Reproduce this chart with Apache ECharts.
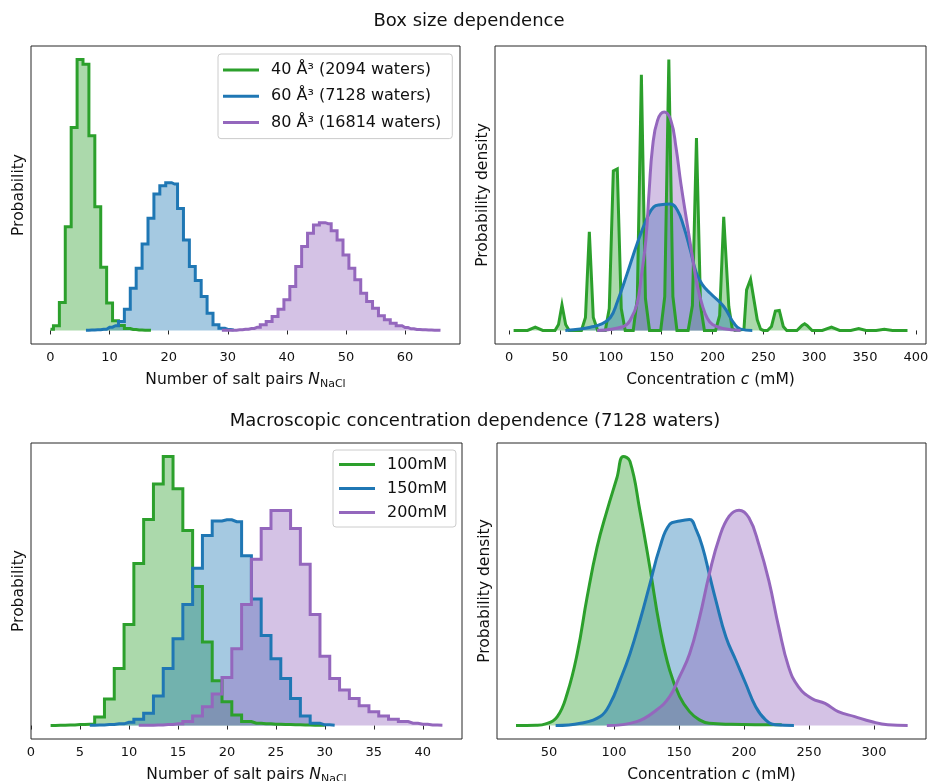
<!DOCTYPE html>
<html>
<head>
<meta charset="utf-8">
<script src="https://cdn.jsdelivr.net/npm/echarts@6/dist/echarts.min.js"></script>
<style>html,body{margin:0;padding:0;background:#fff}#c{width:928px;height:781px}</style>
</head>
<body>
<div id="c"></div>
<script>
// ---------- DATA (relative probability, arbitrary units) ----------
const boxNames = ['40 Å³ (2094 waters)', '60 Å³ (7128 waters)', '80 Å³ (16814 waters)'];
const concNames = ['100mM', '150mM', '200mM'];

// Top-left histograms: number of salt pairs
const nBins40 = [0,1,2,3,4,5,6,7,8,9,10,11,12,13,14,15,16,17];
const hist40 = [1.3,4.7,28,104,203.4,271.4,266.7,195,124,63.4,27.4,9.7,5,2,1,0.5,0.3,0.2];
const nBins60 = [6,7,8,9,10,11,12,13,14,15,16,17,18,19,20,21,22,23,24,25,26,27,28,29,30,31];
const hist60 = [0.3,0.5,0.7,1.3,3.3,4.7,9,21.3,42.3,62.3,86.7,112.3,136.7,145,148,146.7,122.3,90.7,64,50,34,17.3,5.7,2.3,1,0.5];
const nBins80 = [29,30,31,32,33,34,35,36,37,38,39,40,41,42,43,44,45,46,47,48,49,50,51,52,53,54,55,56,57,58,59,60,61,62,63,64,65,66];
const hist80 = [0.1,0.2,0.3,0.7,1.3,2,3.3,5.7,9,14,21.3,30.7,44,64,84,97.3,105.7,108,107,100,90.7,75.7,62.3,50.7,37.3,29,22.3,14.7,10.7,7.3,4.7,3,1.7,1,0.7,0.5,0.3,0.2];

// Top-right densities: [concentration mM, density]
const dens40 = [[4.3,0],[18,0],[25.6,3.3],[33,0],[45,0],[48.5,6],[51.9,25.7],[55.5,6],[59,0],
  [71,0],[75,13],[78.8,99],[82.7,13],[87,0],[94.5,0],[98.4,22],[102.4,160],[106.3,162],[110.2,22],[114.1,0],
  [122,0],[126,32],[130,256.3],[134,32],[138,0],[149,0],[153,34],[157,271.7],[161,34],[165,0],
  [176,0],[180.2,25],[184.2,193],[188.2,25],[192,0],[203,0],[207,15],[211,114],[216,24],[219.4,2],[222,0],
  [230.9,1],[233.5,40.7],[237.4,51.3],[244,10.7],[247.3,1.3],[250,0],[254,0],[258,4],[261.8,19.5],[265.7,20],[269.6,4],[273,0],
  [283,0],[288,5],[290.6,6.7],[293,5],[298,0],[308,0],[317,3.3],[325,0],[336,0],[343.8,2],[351,0],[361,0],[369,1.3],[377,0],[391.8,0]];
const dens60 = [[55.2,0],[70,1.5],[79.8,3.3],[89.7,6],[99.5,13],[106.1,28],[116,57],[125.8,87],[135.7,113],[142.2,124],[148.8,126],
  [158.6,126.7],[165.2,121],[171.7,104],[178.3,80],[184,58],[190,46],[198,37],[211,24],[221,7.3],[227.6,1.3],[239.1,0]];
const dens80 = [[86.4,0],[112.6,4],[119.2,10.7],[125.8,27],[130,55],[134.4,90.7],[137.7,140.7],[141,184],[145.9,210.7],[152.5,219],
  [159,210.7],[164,184],[168.9,147],[175.5,104],[180,75],[185,45],[190,25],[195,12],[200,6],[210,2],[227.6,0]];

// Bottom-left histograms
const nBins100 = [2,3,4,5,6,7,8,9,10,11,12,13,14,15,16,17,18,19,20,21,22,23,24,25,26,27,28,29,30];
const hist100 = [0.1,0.2,0.5,1,1.3,8.7,26.7,57.3,101.7,163,207.3,243,270.7,238.3,196.3,140,84,45,24,10.7,4,2.3,1.7,1.3,1,0.7,0.5,0.3,0.2];
const nBins150 = [6,7,8,9,10,11,12,13,14,15,16,17,18,19,20,21,22,23,24,25,26,27,28,29,30,31];
const hist150 = [0.3,0.5,1,1.7,3.3,6.3,12.3,29.7,57.3,87.3,121.7,158.3,191.3,205.7,207,205,170.7,127.3,90.7,67.3,47.3,27.3,9.7,2.3,0.7,0.3];
const nBins200 = [11,12,13,14,15,16,17,18,19,20,21,22,23,24,25,26,27,28,29,30,31,32,33,34,35,36,37,38,39,40,41,42];
const hist200 = [0.2,0.3,0.5,1,1.7,4,9.7,19,31.7,48.3,77.3,121.7,167.3,198.3,216.3,216.3,198.3,162.3,111.7,69.7,47.3,35.7,27.3,20,14,9.7,6.3,4,2.3,1.3,0.5,0.3];

// Bottom-right densities
const dens100 = [[24.6,0],[40,0.3],[47.5,1.7],[56.4,9],[64,32.3],[71.7,72.3],[79.3,129],[86.9,179],[94.5,215.7],[102.2,249],[107.2,270.7],
  [112.3,265.7],[120,215.7],[127.6,159],[135.2,99],[142.8,55.7],[150.5,29],[158.1,14],[165.7,5.7],[173.3,2.3],[190,1.3],[229,0.7]];
const dens150 = [[55.1,0],[74.2,2.3],[89.4,9],[97.1,22.3],[104.7,45.7],[112.3,72.3],[120,105.7],[127.6,142.3],[135.2,179],[142.8,202.3],
  [150.5,205.7],[158.1,207.3],[163.2,197],[168.2,179],[173.3,152.3],[178.4,125.7],[186.1,89],[193.7,65.7],[201.3,42.3],[209,19],[216.6,5.7],[224.2,0.7],[238.4,0]];
const dens200 = [[94.5,0],[117.4,4],[132.7,15.7],[142.8,29],[150,48],[158.1,72],[165.7,108],[173.3,152.3],[181,189],[188.6,210.7],[196.2,216.7],
  [203.8,209],[211.4,182.3],[219.1,145.7],[226.7,99],[234.3,59],[241.9,39],[252.1,27.3],[262.3,22.3],[272.5,14],[285.2,9],[297.9,4],[310.6,0.7],[325.9,0]];

// Tick labels
const ticksTL = [0,10,20,30,40,50,60];
const ticksTR = [0,50,100,150,200,250,300,350,400];
const ticksBL = [0,5,10,15,20,25,30,35,40];
const ticksBR = [50,100,150,200,250,300];

// ---------- STYLE ----------
const FONT = 'DejaVu Sans';
const C = ['#2ca02c', '#1f77b4', '#9467bd'];
const INK = '#262626';

function pairs(xs, ys){ return xs.map((x,i)=>[x, ys[i]]); }
function maxOf(list){ return Math.max(...list); }

function line(name, color, data, idx, opts){
  return Object.assign({
    type: 'line', name, data, xAxisIndex: idx, yAxisIndex: idx,
    symbol: 'none', showSymbol: false, animation: false,
    lineStyle: { color, width: 3, join: 'miter' },
    itemStyle: { color },
    areaStyle: { color, opacity: 0.4 },
    emphasis: { disabled: true }
  }, opts || {});
}

const grids = [
  { left: 31, top: 46, width: 429, height: 298 },
  { left: 495, top: 46, width: 431, height: 298 },
  { left: 31, top: 443, width: 431, height: 296 },
  { left: 497, top: 443, width: 429, height: 296 }
].map(g => Object.assign(g, { show: true, borderColor: INK, borderWidth: 1, backgroundColor: 'transparent', outerBoundsMode: 'none' }));

const nameN = 'Number of salt pairs {i|N}{s|NaCl}';
const nameC = 'Concentration {i|c} (mM)';
const nameStyle = {
  fontFamily: FONT, fontSize: 15.5, color: '#111', lineHeight: 20,
  rich: {
    i: { fontFamily: FONT, fontSize: 15.5, fontStyle: 'italic', color: '#111', lineHeight: 20 },
    s: { fontFamily: FONT, fontSize: 11, color: '#111', lineHeight: 11, verticalAlign: 'bottom' }
  }
};

function xAxis(idx, min, max, ticks, name){
  return {
    type: 'value', gridIndex: idx, min, max, name, nameLocation: 'middle', nameGap: 26,
    nameTextStyle: nameStyle,
    axisLine: { show: false },
    axisTick: { show: true, length: 4, lineStyle: { color: INK, width: 1 }, customValues: ticks },
    axisLabel: { show: true, customValues: ticks, fontFamily: FONT, fontSize: 13, color: '#111', margin: 7 },
    splitLine: { show: false }
  };
}
function yAxis(idx, M, name){
  return {
    type: 'value', gridIndex: idx, min: -0.05 * M, max: 1.05 * M,
    name, nameLocation: 'middle', nameGap: 4, nameRotate: 90,
    nameTextStyle: { fontFamily: FONT, fontSize: 15.5, color: '#111' },
    axisLine: { show: false }, axisTick: { show: false }, axisLabel: { show: false }, splitLine: { show: false }
  };
}

const dTL = [pairs(nBins40, hist40), pairs(nBins60, hist60), pairs(nBins80, hist80)];
const dTR = [dens40, dens60, dens80];
const dBL = [pairs(nBins100, hist100), pairs(nBins150, hist150), pairs(nBins200, hist200)];
const dBR = [dens100, dens150, dens200];
const M = [dTL, dTR, dBL, dBR].map(g => maxOf(g.flat().map(p => p[1])));

const series = [];
dTL.forEach((d,i) => series.push(line(boxNames[i], C[i], d, 0, { step: 'middle' })));
dTR.forEach((d,i) => series.push(line(boxNames[i], C[i], d, 1, i === 0 ? {} : { smooth: 0.45 })));
dBL.forEach((d,i) => series.push(line(concNames[i], C[i], d, 2, { step: 'middle' })));
dBR.forEach((d,i) => series.push(line(concNames[i], C[i], d, 3, { smooth: 0.45 })));

function legend(names, left, top, padding, gap){
  return {
    data: names, left, top, orient: 'vertical', padding, itemGap: gap,
    icon: 'rect', itemWidth: 36, itemHeight: 3,
    itemStyle: { borderWidth: 0 },
    backgroundColor: 'rgba(255,255,255,0.8)', borderColor: '#cccccc', borderWidth: 1, borderRadius: 3,
    textStyle: { fontFamily: FONT, fontSize: 16, color: '#111', lineHeight: 18, padding: [0,0,0,7] },
    selectedMode: false
  };
}

const option = {
  animation: false,
  backgroundColor: '#ffffff',
  title: [
    { text: 'Box size dependence', left: 464, textAlign: 'center', top: 7,
      textStyle: { fontFamily: FONT, fontSize: 18, fontWeight: 'normal', color: '#111' } },
    { text: 'Macroscopic concentration dependence (7128 waters)', left: 470, textAlign: 'center', top: 407,
      textStyle: { fontFamily: FONT, fontSize: 18, fontWeight: 'normal', color: '#111' } }
  ],
  legend: [
    legend(boxNames, 218, 54, [7,11,7,5], 8.3),
    legend(concNames, 333, 450, [5.5,9,5.5,6], 6)
  ],
  grid: grids,
  xAxis: [
    xAxis(0, -3.3, 69.3, ticksTL, nameN),
    xAxis(1, -14, 410, ticksTR, nameC),
    xAxis(2, 0, 44, ticksBL, nameN),
    xAxis(3, 10, 340, ticksBR, nameC)
  ],
  yAxis: [
    yAxis(0, M[0], 'Probability'),
    yAxis(1, M[1], 'Probability density'),
    yAxis(2, M[2], 'Probability'),
    yAxis(3, M[3], 'Probability density')
  ],
  series
};

const chart = echarts.init(document.getElementById('c'), null, { renderer: 'canvas' });
chart.setOption(option);
</script>
</body>
</html>
